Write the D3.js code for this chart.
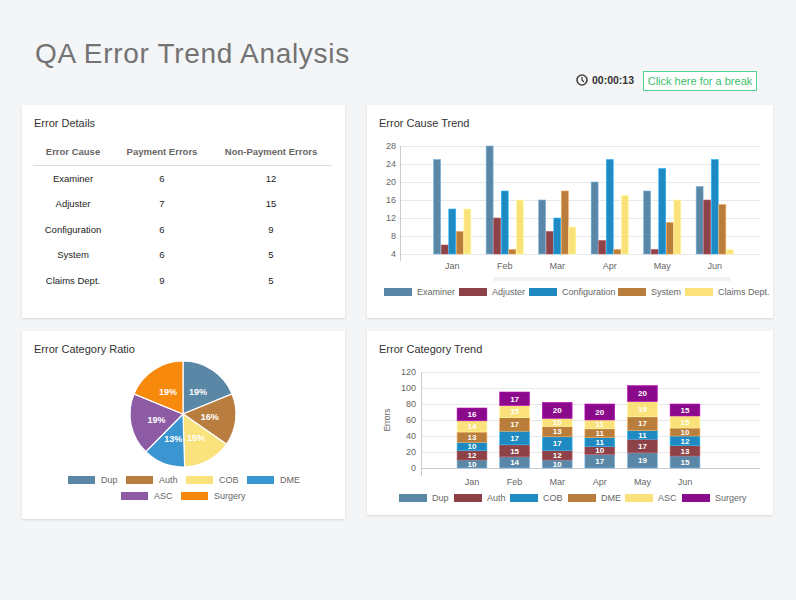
<!DOCTYPE html>
<html>
<head>
<meta charset="utf-8">
<script src="https://cdn.jsdelivr.net/npm/d3@7"></script>
<style>
  html, body { margin: 0; padding: 0; background: #f4f5f7; }
  svg { display: block; font-family: "Liberation Sans", Arial, sans-serif; }
</style>
</head>
<body>
<svg id="page" width="796" height="600"></svg>
<script>
// ---- data ----
const months = ["Jan", "Feb", "Mar", "Apr", "May", "Jun"];

// Error Details table
const causes = ["Examiner", "Adjuster", "Configuration", "System", "Claims Dept."];
const paymentErrors = [6, 7, 6, 6, 9];
const nonPaymentErrors = [12, 15, 9, 5, 5];

// Error Cause Trend (grouped bars)
const examiner = [25, 28, 16, 20, 18, 19];
const adjuster = [6, 12, 9, 7, 5, 16];
const configuration = [14, 18, 12, 25, 23, 25];
const system = [9, 5, 18, 5, 11, 15];
const claimsDept = [14, 16, 10, 17, 16, 5];
const causeTicks = [4, 8, 12, 16, 20, 24, 28];

// Error Category Ratio (pie)
const categories = ["Dup", "Auth", "COB", "DME", "ASC", "Surgery"];
const ratioValues = [19, 16, 15, 13, 19, 19];

// Error Category Trend (stacked bars)
const dup = [10, 14, 10, 17, 19, 15];
const auth = [12, 15, 12, 10, 17, 13];
const cob = [10, 17, 17, 11, 11, 12];
const dme = [13, 17, 13, 11, 17, 10];
const asc = [14, 15, 10, 11, 19, 15];
const surgery = [16, 17, 20, 20, 20, 15];
const categoryTicks = [0, 20, 40, 60, 80, 100, 120];

const svg = d3.select("#page");

// title + timer
svg.append("text").attr("x", 35).attr("y", 63)
    .attr("font-size", 28).attr("letter-spacing", 0.7).attr("fill", "#737373")
    .text("QA Error Trend Analysis");

let clock = svg.append("g").attr("transform", "translate(582,80)");
clock.append("circle").attr("r", 5).attr("fill", "none").attr("stroke", "#444").attr("stroke-width", 1.6);
clock.append("path").attr("d", "M0,-3V0L2,2").attr("fill", "none").attr("stroke", "#444").attr("stroke-width", 1.3);
svg.append("text").attr("x", 592).attr("y", 84)
    .attr("font-size", 10.5).attr("font-weight", "bold").attr("fill", "#333")
    .text("00:00:13");
svg.append("rect").attr("x", 643.5).attr("y", 71.5).attr("width", 113).attr("height", 19)
    .attr("fill", "#fff").attr("stroke", "#4fd590");
svg.append("text").attr("x", 700).attr("y", 84.5).attr("text-anchor", "middle")
    .attr("font-size", 11).attr("fill", "#3cbf6e")
    .text("Click here for a break");

// cards
const cards = [
    { x: 22, y: 105, w: 323, h: 213, title: "Error Details" },
    { x: 367, y: 105, w: 406, h: 213, title: "Error Cause Trend" },
    { x: 22, y: 331, w: 323, h: 188, title: "Error Category Ratio" },
    { x: 367, y: 331, w: 406, h: 184, title: "Error Category Trend" }
];
let defs = svg.append("defs");
defs.append("filter").attr("id", "shadow").attr("x", "-5%").attr("y", "-5%").attr("width", "110%").attr("height", "115%")
    .append("feDropShadow").attr("dx", 0).attr("dy", 1).attr("stdDeviation", 1.2)
    .attr("flood-color", "#000").attr("flood-opacity", 0.12);
cards.forEach(c => {
    svg.append("rect").attr("x", c.x).attr("y", c.y).attr("width", c.w).attr("height", c.h)
        .attr("fill", "#fff").attr("filter", "url(#shadow)");
    svg.append("text").attr("x", c.x + 12).attr("y", c.y + 22)
        .attr("font-size", 11).attr("fill", "#333").text(c.title);
});

const legendText = (g, x, y, txt) => g.append("text").attr("x", x).attr("y", y)
    .attr("font-size", 9).attr("fill", "#666").text(txt);

// ---- Error Details table ----
let table = svg.append("g");
const colX = [73, 162, 271];
["Error Cause", "Payment Errors", "Non-Payment Errors"].forEach((h, i) => {
    table.append("text").attr("x", colX[i]).attr("y", 155).attr("text-anchor", "middle")
        .attr("font-size", 9.5).attr("font-weight", "bold").attr("fill", "#666").text(h);
});
table.append("line").attr("x1", 33).attr("x2", 332).attr("y1", 165.5).attr("y2", 165.5)
    .attr("stroke", "#ddd").attr("stroke-width", 1.2);
let rowY = d3.scalePoint().domain(causes).range([178, 280]);
causes.forEach((c, i) => {
    [c, paymentErrors[i], nonPaymentErrors[i]].forEach((v, j) => {
        table.append("text").attr("x", colX[j]).attr("y", rowY(c) + 3.5).attr("text-anchor", "middle")
            .attr("font-size", 9.5).attr("fill", "#222").text(v);
    });
});

// ---- Error Cause Trend ----
const causeSeries = [
    { name: "Examiner", values: examiner, color: "#5b87a7" },
    { name: "Adjuster", values: adjuster, color: "#8d4247" },
    { name: "Configuration", values: configuration, color: "#1f89c1" },
    { name: "System", values: system, color: "#b97d3c" },
    { name: "Claims Dept.", values: claimsDept, color: "#fbe17a" }
];
let g1 = svg.append("g");
let y1 = d3.scaleLinear().domain([4, 28]).range([254, 146]);
let x1 = d3.scaleBand().domain(months).range([426, 741]).paddingInner(0.28).paddingOuter(0.14);
let x1in = d3.scaleBand().domain(causeSeries.map(s => s.name)).range([0, x1.bandwidth()]);

let y1Axis = g1.append("g").attr("transform", "translate(400,0)")
    .call(d3.axisLeft(y1).tickValues(causeTicks).tickSize(-360).tickPadding(4));
y1Axis.select(".domain").remove();
y1Axis.selectAll(".tick line").attr("stroke", "#e8e8e8");
y1Axis.selectAll(".tick text").attr("font-size", 9).attr("fill", "#666")
    .attr("font-family", "Liberation Sans, Arial, sans-serif");
g1.append("line").attr("x1", 400.5).attr("x2", 400.5).attr("y1", 146).attr("y2", 261).attr("stroke", "#ccc");

let x1Axis = g1.append("g").attr("transform", "translate(0,258)")
    .call(d3.axisBottom(x1).tickSize(0).tickPadding(5));
x1Axis.select(".domain").remove();
x1Axis.selectAll(".tick text").attr("font-size", 9).attr("fill", "#666")
    .attr("font-family", "Liberation Sans, Arial, sans-serif");

// faint range selector strip
g1.append("rect").attr("x", 493).attr("y", 277).attr("width", 238).attr("height", 4).attr("fill", "#f3f3f3");

causeSeries.forEach(s => {
    g1.selectAll(null).data(s.values).enter().append("rect")
        .attr("x", (d, i) => x1(months[i]) + x1in(s.name) + 0.3)
        .attr("width", x1in.bandwidth() - 0.6)
        .attr("y", d => y1(d))
        .attr("height", d => y1(4) - y1(d))
        .attr("fill", s.color)
        .attr("stroke", d3.color(s.color).brighter(0.8)).attr("stroke-width", 0.6);
});

let lg1 = svg.append("g");
const lg1X = [384, 459, 529, 618, 685];
causeSeries.forEach((s, i) => {
    lg1.append("rect").attr("x", lg1X[i]).attr("y", 288).attr("width", 28).attr("height", 8).attr("fill", s.color);
    legendText(lg1, lg1X[i] + 33, 295, s.name);
});

// ---- Error Category Ratio ----
const pieColors = ["#5b87a7", "#b97e3f", "#fae27c", "#3b95d0", "#8d5ba3", "#f7890c"];
let g2 = svg.append("g").attr("transform", "translate(183,414)");
let pie = d3.pie().sort(null).value(d => d);
let arcs = pie(ratioValues);
let total = d3.sum(ratioValues);
let arc = d3.arc().innerRadius(0).outerRadius(53);
let labelArc = d3.arc().innerRadius(27).outerRadius(27);
g2.selectAll("path").data(arcs).enter().append("path")
    .attr("d", arc).attr("fill", (d, i) => pieColors[i])
    .attr("stroke", "#fff").attr("stroke-width", 1.2);
g2.selectAll("text").data(arcs).enter().append("text")
    .attr("transform", d => `translate(${labelArc.centroid(d)})`)
    .attr("dy", "0.35em").attr("text-anchor", "middle")
    .attr("font-size", 9).attr("font-weight", "bold").attr("fill", "#fff")
    .text(d => Math.round(d.value / total * 100) + "%");

let lg2 = svg.append("g");
const lg2Pos = [[68, 476], [126, 476], [186, 476], [247, 476], [121, 492], [181, 492]];
categories.forEach((c, i) => {
    lg2.append("rect").attr("x", lg2Pos[i][0]).attr("y", lg2Pos[i][1]).attr("width", 27).attr("height", 8).attr("fill", pieColors[i]);
    legendText(lg2, lg2Pos[i][0] + 33, lg2Pos[i][1] + 7, c);
});

// ---- Error Category Trend ----
const stackColors = ["#5b87a7", "#8d4247", "#1f89c1", "#b97d3c", "#fbe17a", "#8b0a8c"];
const stackSeries = [dup, auth, cob, dme, asc, surgery];
let rows = months.map((m, i) => {
    let r = { month: m };
    categories.forEach((c, j) => r[c] = stackSeries[j][i]);
    return r;
});
let stacked = d3.stack().keys(categories)(rows);

let g3 = svg.append("g");
let y3 = d3.scaleLinear().domain([0, 120]).range([468, 372]);
let x3 = d3.scaleBand().domain(months).range([450.7, 706.3]).paddingInner(0.3).paddingOuter(0.15);

let y3Axis = g3.append("g").attr("transform", "translate(421,0)")
    .call(d3.axisLeft(y3).tickValues(categoryTicks).tickSize(-339).tickPadding(5));
y3Axis.select(".domain").remove();
y3Axis.selectAll(".tick line").attr("stroke", "#e8e8e8");
y3Axis.selectAll(".tick text").attr("font-size", 9).attr("fill", "#666")
    .attr("font-family", "Liberation Sans, Arial, sans-serif");
g3.append("line").attr("x1", 421.5).attr("x2", 421.5).attr("y1", 372).attr("y2", 476).attr("stroke", "#ccc");
g3.append("line").attr("x1", 421).attr("x2", 760).attr("y1", 468.5).attr("y2", 468.5).attr("stroke", "#ccc");
g3.append("text").attr("transform", "translate(390,420) rotate(-90)").attr("text-anchor", "middle")
    .attr("font-size", 8.5).attr("fill", "#666").text("Errors");

let x3Axis = g3.append("g").attr("transform", "translate(0,474)")
    .call(d3.axisBottom(x3).tickSize(0).tickPadding(5));
x3Axis.select(".domain").remove();
x3Axis.selectAll(".tick text").attr("font-size", 9).attr("fill", "#666")
    .attr("font-family", "Liberation Sans, Arial, sans-serif");

stacked.forEach((layer, li) => {
    let lay = g3.append("g");
    lay.selectAll("rect").data(layer).enter().append("rect")
        .attr("x", d => x3(d.data.month))
        .attr("width", x3.bandwidth())
        .attr("y", d => y3(d[1]))
        .attr("height", d => y3(d[0]) - y3(d[1]))
        .attr("fill", stackColors[li])
        .attr("stroke", d3.color(stackColors[li]).brighter(0.9)).attr("stroke-width", 0.6);
    lay.selectAll("text").data(layer).enter().append("text")
        .attr("x", d => x3(d.data.month) + x3.bandwidth() / 2)
        .attr("y", d => (y3(d[0]) + y3(d[1])) / 2)
        .attr("dy", "0.36em").attr("text-anchor", "middle")
        .attr("font-size", 8).attr("font-weight", "bold").attr("fill", "#fff")
        .text(d => d[1] - d[0]);
});

let lg3 = svg.append("g");
const lg3X = [399, 454, 510, 568, 625, 682];
categories.forEach((c, i) => {
    lg3.append("rect").attr("x", lg3X[i]).attr("y", 494).attr("width", 28).attr("height", 8).attr("fill", stackColors[i]);
    legendText(lg3, lg3X[i] + 33, 501, c);
});
</script>
</body>
</html>
